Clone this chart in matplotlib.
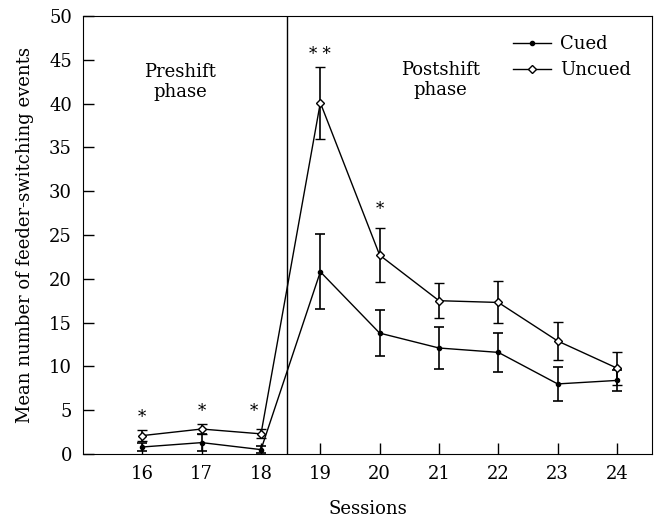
import numpy as np
import matplotlib.pyplot as plt
from matplotlib.lines import Line2D

sessions = [16, 17, 18, 19, 20, 21, 22, 23, 24]
cued = [0.8, 1.3, 0.5, 20.8, 13.8, 12.1, 11.6, 8.0, 8.4]
cued_err = [0.5, 1.0, 0.4, 4.3, 2.6, 2.4, 2.2, 1.9, 1.2]
uncued = [2.1, 2.85, 2.3, 40.1, 22.7, 17.5, 17.3, 12.9, 9.8]
uncued_err = [0.6, 0.6, 0.5, 4.1, 3.1, 2.0, 2.4, 2.2, 1.9]
star_x = [16, 17, 17.88, 19, 20]
star_y = [4.2, 4.9, 4.9, 45.6, 27.9]
star_txt = ['*', '*', '*', '* *', '*']

plt.rcParams['font.family'] = ['DejaVu Serif']
plt.rcParams['font.size'] = 13

fig = plt.figure(figsize=(6.57, 5.19), dpi=100)
ax = fig.add_axes([83 / 657, 65 / 519, 569 / 657, 438 / 519])

ax.errorbar(sessions, cued, yerr=cued_err, color='black', lw=1, marker='o', ms=3,
            capsize=3.5, elinewidth=1.2, capthick=1.2)
ax.errorbar(sessions, uncued, yerr=uncued_err, color='black', lw=1, marker='D', ms=4,
            mfc='white', mec='black', mew=1, capsize=3.5, elinewidth=1.2,
            capthick=1.2)

ax.axvline(18.43, color='black', lw=1)

for x, y, t in zip(star_x, star_y, star_txt):
    ax.text(x, y, t, ha='center', va='center', fontsize=12)

ax.text(16.64, 42.5, 'Preshift\nphase', ha='center', va='center', linespacing=1.15)
ax.text(21.03, 42.7, 'Postshift\nphase', ha='center', va='center', linespacing=1.15)

ax.set_xlim(15.0, 24.59)
ax.set_ylim(0, 50)
ax.set_xticks(sessions)
ax.set_yticks(range(0, 51, 5))
ax.tick_params(direction='in', length=8, width=1, pad=8)
ax.set_xlabel('Sessions', labelpad=12)
ax.set_ylabel('Mean number of feeder-switching events', labelpad=11)

handles = [Line2D([], [], color='black', lw=1, marker='o', ms=3),
           Line2D([], [], color='black', lw=1, marker='D', ms=4, mfc='white', mew=1)]
ax.legend(handles, ['Cued', 'Uncued'], loc='upper right', bbox_to_anchor=(0.985, 0.985),
          frameon=False, handlelength=2.1, handletextpad=0.5, borderaxespad=0.3,
          labelspacing=0.45)

fig.savefig('out.png', dpi=100)
